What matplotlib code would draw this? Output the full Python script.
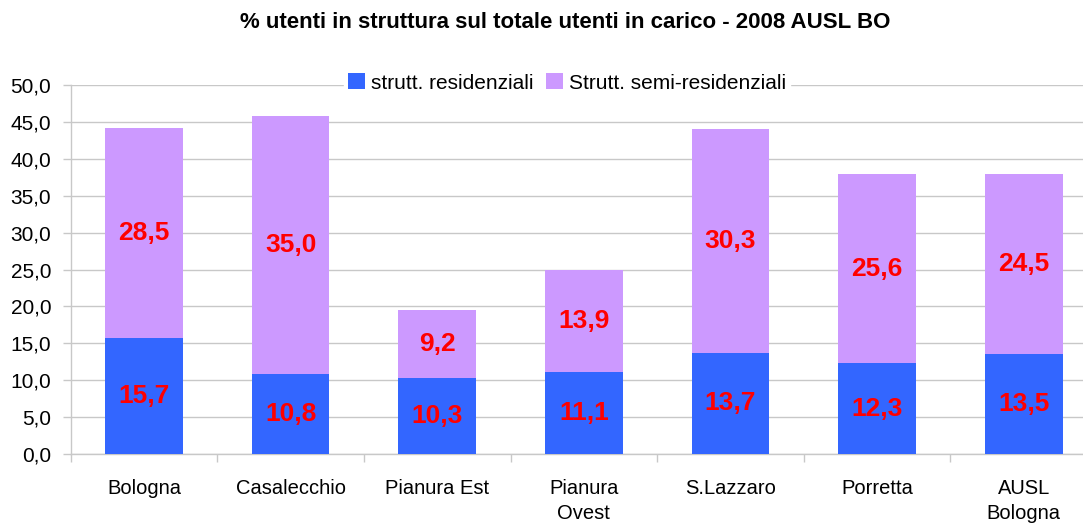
import matplotlib
matplotlib.use("Agg")
import matplotlib.pyplot as plt
import numpy as np
from matplotlib.ticker import FuncFormatter, FixedLocator

plt.rcParams['font.family'] = ['Liberation Sans', 'DejaVu Sans']

categories = ['Bologna', 'Casalecchio', 'Pianura Est', 'Pianura\nOvest',
              'S.Lazzaro', 'Porretta', 'AUSL\nBologna']
residenziali = [15.7, 10.8, 10.3, 11.1, 13.7, 12.3, 13.5]
semi_residenziali = [28.5, 35.0, 9.2, 13.9, 30.3, 25.6, 24.5]

blue = '#3366FF'
lilac = '#CC99FF'
grid_col = '#C8C8C8'

fig = plt.figure(figsize=(10.83, 5.26), dpi=100)
ax = fig.add_axes([70.7 / 1083, 1 - 454 / 526, (1097 - 70.7) / 1083, 369 / 526])

x = np.arange(len(categories))
w = 0.53
ax.bar(x, residenziali, w, color=blue, label='strutt. residenziali', zorder=3)
ax.bar(x, semi_residenziali, w, bottom=residenziali, color=lilac,
       label='Strutt. semi-residenziali', zorder=3)

def fmt(v):
    return f'{v:.1f}'.replace('.', ',')

for xi, r, s in zip(x, residenziali, semi_residenziali):
    ax.text(xi, r / 2, fmt(r), ha='center', va='center', color='red',
            fontsize=19, fontweight='bold', zorder=4)
    ax.text(xi, r + s / 2, fmt(s), ha='center', va='center', color='red',
            fontsize=19, fontweight='bold', zorder=4)

ax.set_xlim(-0.5, len(categories) - 0.5)
ax.set_ylim(0, 50)
ax.set_yticks(np.arange(0, 50.1, 5))
ax.yaxis.set_major_formatter(FuncFormatter(lambda v, p: fmt(v)))
ax.yaxis.grid(True, color=grid_col, linewidth=1, zorder=0)

ax.set_xticks(x)
ax.set_xticklabels(categories, linespacing=1.4)
ax.xaxis.set_minor_locator(FixedLocator(np.arange(-0.5, len(categories), 1)))
ax.tick_params(axis='x', which='major', length=0, pad=18, labelsize=14.5)
ax.tick_params(axis='x', which='minor', length=6, color=grid_col, width=1)
ax.tick_params(axis='y', length=6, color=grid_col, width=1, pad=8, labelsize=15)

for side in ['top', 'right']:
    ax.spines[side].set_visible(False)
for side in ['left', 'bottom']:
    ax.spines[side].set_color(grid_col)
    ax.spines[side].set_linewidth(1)

leg = ax.legend(loc='center', bbox_to_anchor=(567 / 1083, 1 - 83 / 526),
                bbox_transform=fig.transFigure, ncol=2, frameon=True,
                fontsize=15, handlelength=0.8, handleheight=0.8,
                handletextpad=0.3, columnspacing=0.6, borderpad=0.2,
                fancybox=False)
leg.get_frame().set_edgecolor('white')
leg.get_frame().set_facecolor('white')
leg.get_frame().set_alpha(1)
leg.set_zorder(5)

fig.text(565 / 1083, 1 - 22 / 526,
         '% utenti in struttura sul totale utenti in carico - 2008 AUSL BO',
         ha='center', va='center', fontsize=16, fontweight='bold')

fig.savefig('out.png', dpi=100)
